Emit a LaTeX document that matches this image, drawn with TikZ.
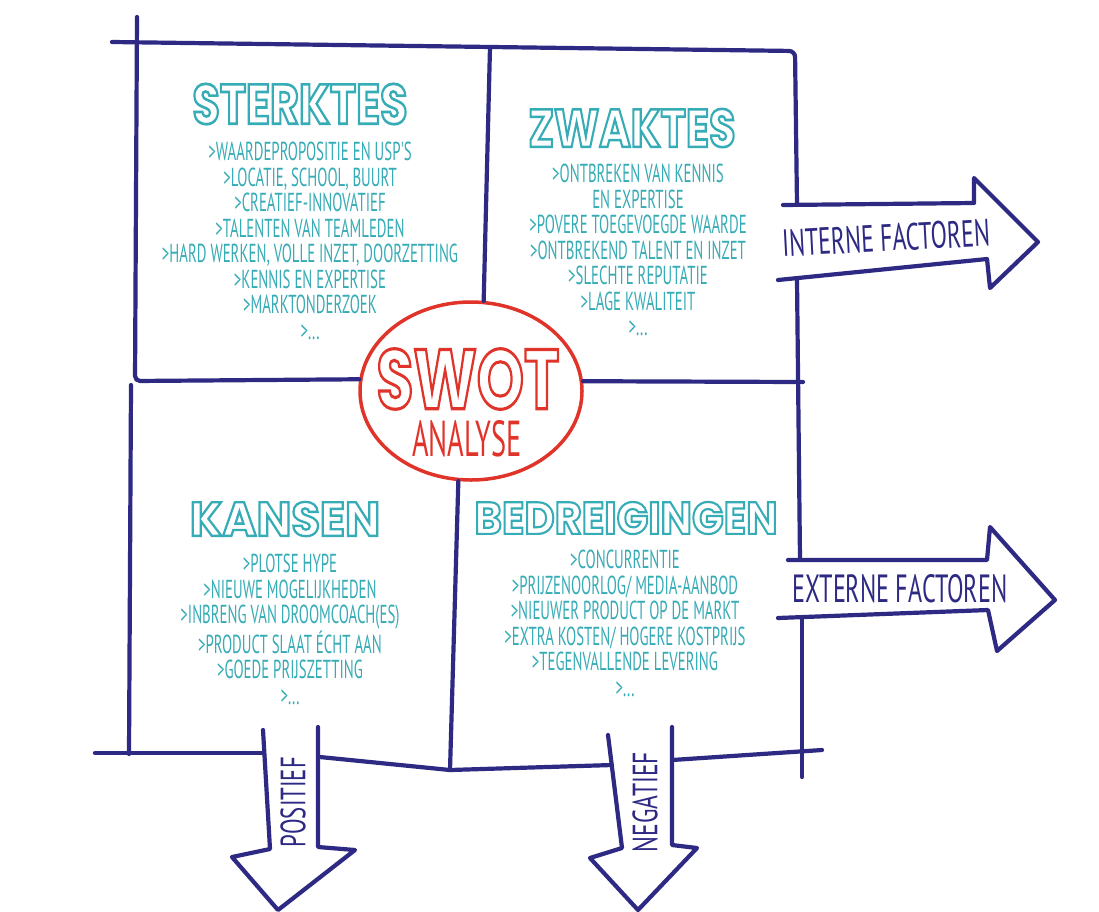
\documentclass[tikz,border=0pt]{standalone}
\usepackage{fontspec}
\usetikzlibrary{shapes.geometric}
\setmainfont{PT Sans}
\newfontfamily\handfont[FakeStretch=0.57]{PT Sans}
\newfontfamily\blockfont{Poppins}
\definecolor{ink}{RGB}{46,42,132}
\definecolor{sea}{RGB}{54,172,182}
\definecolor{swotred}{RGB}{224,52,42}
\newcommand{\hollow}[3][2.6]{%
  {\color{#2}\special{pdf:literal direct 1 1 1 rg 2 Tr #1 w}#3\special{pdf:literal direct 0 Tr}}}

\begin{document}
\begin{tikzpicture}[x=1pt, y=-1pt,
  inkline/.style={draw=ink, line width=4.2pt, line cap=round, line join=round},
  headword/.style={inner sep=0pt, font=\blockfont\bfseries\fontsize{54}{54}\selectfont},
  itemlist/.style={inner sep=0pt, anchor=north, align=center, text=sea,
    font=\handfont\fontsize{26}{25.5}\selectfont},
  tagtext/.style={inner sep=0pt, text=ink, font=\handfont\fontsize{30}{30}\selectfont},
  bubble/.style={ellipse, draw=swotred, line width=3.5pt, minimum width=222pt,
    minimum height=178pt, inner sep=0pt}
]
\useasboundingbox[fill=white] (0,0) rectangle (1099,911);

\node[bubble] (swot) at (471,391) {};

\draw[inkline, rounded corners=6pt] (112,42) -- (795,51) -- (797,205);
\draw[inkline] (783,205) -- (974,203) -- (974,178) -- (1038,242) -- (990,288) -- (987,259) -- (778,280);
\draw[inkline] (797,280) -- (800,560);
\draw[inkline] (788,560) -- (987,560) -- (990,527) -- (1055,600) -- (997,651) -- (988,610) -- (778,618);
\draw[inkline] (802,618) -- (802,777);
\draw[inkline, rounded corners=5pt] (137,17) -- (135,381) -- (swot.174);
\draw[inkline] (swot.5) -- (803,382);
\draw[inkline] (490,47) -- (swot.82);
\draw[inkline] (131,385) -- (129,754);
\draw[inkline] (swot.262) -- (450,770);
\draw[inkline] (95,753) -- (263,753);
\draw[inkline] (320,757) -- (450,770) -- (612,765);
\draw[inkline] (672,760) -- (822,750);
\draw[inkline] (263,730) -- (270,849) -- (232,857) -- (278,910) -- (355,850) -- (318,847) -- (318,727);
\draw[inkline] (608,735) -- (622,848) -- (590,858) -- (638,910) -- (697,848) -- (672,845) -- (672,727);

\foreach \n/\x/\y/\w/\h/\t in {
  sterktes/300/104/215/40/STERKTES,
  zwaktes/632/128/207/38/ZWAKTES,
  kansen/285/519/190/34/KANSEN,
  bedreigingen/626/518/303/32/BEDREIGINGEN} {
  \node[headword] (\n) at (\x,\y) {\resizebox{\w pt}{\h pt}{\hollow{sea}{\t}}};
}

\node[itemlist] (sterktes-list) at (310,142) {>WAARDEPROPOSITIE EN USP'S\\>LOCATIE, SCHOOL, BUURT\\>CREATIEF-INNOVATIEF\\>TALENTEN VAN TEAMLEDEN\\>HARD WERKEN, VOLLE INZET, DOORZETTING\\>KENNIS EN EXPERTISE\\>MARKTONDERZOEK\\>...};
\node[itemlist] (zwaktes-list) at (638,164) {>ONTBREKEN VAN KENNIS\\EN EXPERTISE\\>POVERE TOEGEVOEGDE WAARDE\\>ONTBREKEND TALENT EN INZET\\>SLECHTE REPUTATIE\\>LAGE KWALITEIT\\>...};
\node[itemlist] (kansen-list) at (290,554) {>PLOTSE HYPE\\>NIEUWE MOGELIJKHEDEN\\>INBRENG VAN DROOMCOACH(ES)\\>PRODUCT SLAAT ÉCHT AAN\\>GOEDE PRIJSZETTING\\>...};
\node[itemlist] (bedreigingen-list) at (625,550) {>CONCURRENTIE\\>PRIJZENOORLOG/ MEDIA-AANBOD\\>NIEUWER PRODUCT OP DE MARKT\\>EXTRA KOSTEN/ HOGERE KOSTPRIJS\\>TEGENVALLENDE LEVERING\\>...};

\node[inner sep=0pt] (swot-word) at (468,379) {\resizebox{183pt}{60pt}{\blockfont\bfseries\fontsize{86}{86}\selectfont\hollow[3.2]{swotred}{SWOT}}};
\node[tagtext, text=swotred] (analyse) at (467,439) {\resizebox{110pt}{36pt}{ANALYSE}};

\node[tagtext, rotate=3] (interne) at (886,238) {\resizebox{208pt}{27pt}{INTERNE FACTOREN}};
\node[tagtext] (externe) at (900,589) {\resizebox{215pt}{28pt}{EXTERNE FACTOREN}};
\node[tagtext, rotate=90] (positief) at (293,802) {\resizebox{90pt}{25pt}{POSITIEF}};
\node[tagtext, rotate=90] (negatief) at (645,802) {\resizebox{100pt}{25pt}{NEGATIEF}};
\end{tikzpicture}
\end{document}
